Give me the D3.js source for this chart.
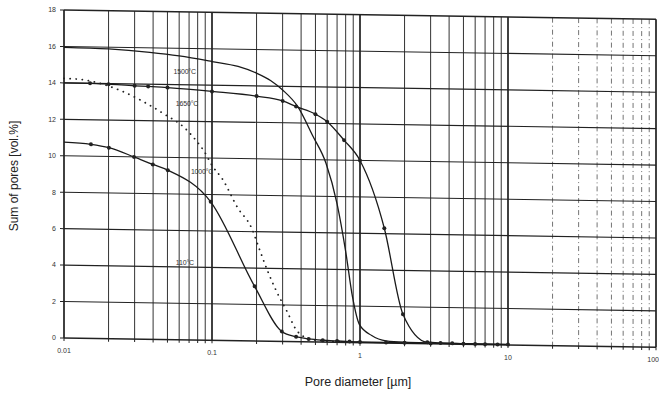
<!DOCTYPE html>
<html>
<head>
<meta charset="utf-8">
<script src="https://cdn.jsdelivr.net/npm/d3@7"></script>
<style>
  html, body { margin: 0; padding: 0; background: #fff; }
  svg { display: block; }
</style>
</head>
<body>
<svg id="chart" width="659" height="394"></svg>
<script>
// Cumulative pore volume vs. pore diameter for four firing temperatures
const xTickValues = [0.01, 0.1, 1, 10, 100];
const xTickLabels = ["0.01", "0.1", "1", "10", "100"];
const yTickValues = [0, 2, 4, 6, 8, 10, 12, 14, 16, 18];

// 1500 °C (solid line)
const d1500 = [0.01, 0.02, 0.038, 0.06, 0.1, 0.15, 0.2, 0.25, 0.3, 0.38, 0.48, 0.59, 0.7, 0.8, 0.89, 0.99, 1.2, 1.5, 2, 3, 5, 10];
const v1500 = [15.95, 15.9, 15.75, 15.58, 15.3, 15.05, 14.7, 14.3, 13.8, 12.9, 11.3, 9.8, 7.6, 5.0, 2.5, 1.0, 0.4, 0.12, 0.06, 0.04, 0.03, 0.03];

// 1650 °C (solid line with points)
const d1650 = [0.01, 0.015, 0.02, 0.03, 0.037, 0.05, 0.1, 0.2, 0.3, 0.37, 0.5, 0.6, 0.78, 1.0, 1.46, 1.95, 2.85, 3.5, 4.2, 5, 6, 7, 8.5, 10];
const v1650 = [14.0, 14.0, 13.97, 13.9, 13.88, 13.83, 13.66, 13.44, 13.2, 12.9, 12.5, 12.1, 11.1, 10.0, 6.3, 1.6, 0.08, 0.05, 0.04, 0.03, 0.03, 0.02, 0.02, 0.02];

// 1000 °C (dotted)
const d1000 = [0.01, 0.013, 0.0246, 0.034, 0.047, 0.066, 0.079, 0.088, 0.1, 0.118, 0.149, 0.185, 0.21, 0.238, 0.273, 0.319, 0.379, 0.478, 0.6, 0.8, 1.0];
const v1000 = [14.25, 14.2, 13.6, 13.06, 12.4, 11.6, 10.9, 10.4, 9.6, 8.84, 7.3, 6.2, 5.0, 3.84, 2.74, 1.7, 0.55, 0.12, 0.06, 0.04, 0.03];

// 110 °C (solid line with points)
const d110 = [0.01, 0.0152, 0.0201, 0.0297, 0.0398, 0.0503, 0.098, 0.194, 0.296, 0.37, 0.45, 0.56, 0.7, 0.85, 1.0, 1.5, 2, 3];
const v110 = [10.75, 10.65, 10.48, 10.0, 9.6, 9.3, 7.6, 3.0, 0.55, 0.27, 0.16, 0.1, 0.07, 0.05, 0.04, 0.03, 0.03, 0.02];

const seriesLabels = ["1500°C", "1650°C", "1000°C", "110°C"];
// label anchor points (diameter, volume)
const labelD = [0.055, 0.057, 0.072, 0.057];
const labelV = [14.6, 12.85, 9.1, 4.1];

const svg = d3.select("#chart");
const plotLeft = 64, plotRight = 656, plotTop = 10, plotBottom = 338;

const x = d3.scaleLog().domain([0.01, 100]).range([plotLeft, plotRight]);
const y = d3.scaleLinear().domain([0, 18]).range([plotBottom, plotTop]);

// slight skew of the whole plotting frame
const skew = 0.9;
const tanSkew = Math.tan(skew * Math.PI / 180);
const sk = px => (px - plotLeft) * tanSkew;   // vertical offset for texts
const g = svg.append("g")
  .attr("transform", `translate(0,${-plotLeft * tanSkew}) skewY(${skew})`);
const fontFam = "Liberation Sans, Arial, sans-serif";

// minor / major vertical grid
const minors = [];
[0.01, 0.1, 1, 10].forEach(dec => {
  for (let k = 1; k <= 9; k++) minors.push(dec * k);
});
minors.push(100);

minors.forEach(v => {
  const isDecade = Math.abs(Math.log10(v) - Math.round(Math.log10(v))) < 1e-9;
  const inLast = v > 10 + 1e-9 && v < 100 - 1e-9;
  g.append("line")
    .attr("x1", x(v)).attr("x2", x(v))
    .attr("y1", y(18)).attr("y2", y(0))
    .attr("stroke", inLast ? "#666" : (isDecade ? "#111" : "#333"))
    .attr("stroke-width", isDecade ? 1.6 : (inLast ? 0.9 : 1))
    .attr("stroke-dasharray", inLast ? "5,3,1,3" : null);
});

// horizontal grid
yTickValues.forEach(v => {
  g.append("line")
    .attr("x1", x(0.01)).attr("x2", x(100))
    .attr("y1", y(v)).attr("y2", y(v))
    .attr("stroke", "#222")
    .attr("stroke-width", v === 0 || v === 18 ? 1.6 : 1.1);
});

// axis ticks (y on the left, x below)
yTickValues.forEach(v => {
  g.append("line")
    .attr("x1", x(0.01) - 4).attr("x2", x(0.01))
    .attr("y1", y(v)).attr("y2", y(v))
    .attr("stroke", "#222").attr("stroke-width", 1);
});
minors.forEach(v => {
  g.append("line")
    .attr("x1", x(v)).attr("x2", x(v))
    .attr("y1", y(0)).attr("y2", y(0) + 3)
    .attr("stroke", "#222").attr("stroke-width", 1);
});

// curves
const line = d3.line()
  .x(d => x(d[0]))
  .y(d => y(d[1]))
  .curve(d3.curveMonotoneX);

const zip = (a, b) => a.map((v, i) => [v, b[i]]);

const s1500 = zip(d1500, v1500);
const s1650 = zip(d1650, v1650);
const s1000 = zip(d1000, v1000);
const s110 = zip(d110, v110);

g.append("path").attr("d", line(s1500))
  .attr("fill", "none").attr("stroke", "#1a1a1a").attr("stroke-width", 1.3);

g.append("path").attr("d", line(s1650))
  .attr("fill", "none").attr("stroke", "#1a1a1a").attr("stroke-width", 1.3);

g.append("path").attr("d", line(s1000))
  .attr("fill", "none").attr("stroke", "#222").attr("stroke-width", 1.8)
  .attr("stroke-linecap", "round")
  .attr("stroke-dasharray", "0.1,6");

g.append("path").attr("d", line(s110))
  .attr("fill", "none").attr("stroke", "#1a1a1a").attr("stroke-width", 1.3);

[s1650, s110].forEach(s => {
  g.selectAll(null).data(s.slice(1)).enter().append("circle")
    .attr("cx", d => x(d[0]))
    .attr("cy", d => y(d[1]))
    .attr("r", 2)
    .attr("fill", "#222");
});

// tick labels (kept upright, shifted to follow the frame)
svg.selectAll(".ylab").data(yTickValues).enter().append("text")
  .attr("class", "ylab")
  .attr("x", x(0.01) - 8)
  .attr("y", d => y(d) + 2.5 + sk(x(0.01) - 8))
  .attr("text-anchor", "end")
  .attr("font-family", fontFam)
  .attr("font-size", 7)
  .attr("fill", "#333")
  .text(d => d);

svg.selectAll(".xlab").data(xTickValues).enter().append("text")
  .attr("class", "xlab")
  .attr("x", d => d === 100 ? 659 : x(d))
  .attr("y", d => y(0) + 15 + sk(x(d)))
  .attr("text-anchor", d => d === 100 ? "end" : "middle")
  .attr("font-family", fontFam)
  .attr("font-size", 7)
  .attr("fill", "#333")
  .text((d, i) => xTickLabels[i]);

// series labels
svg.selectAll(".slab").data(seriesLabels).enter().append("text")
  .attr("class", "slab")
  .attr("x", (d, i) => x(labelD[i]))
  .attr("y", (d, i) => y(labelV[i]) + sk(x(labelD[i])))
  .attr("font-family", fontFam)
  .attr("font-size", 7)
  .attr("fill", "#333")
  .attr("letter-spacing", -0.2)
  .text(d => d);

// axis titles
svg.append("text")
  .attr("transform", `translate(18,${(plotTop + plotBottom) / 2 + 2}) rotate(-90)`)
  .attr("text-anchor", "middle")
  .attr("font-family", fontFam)
  .attr("font-size", 12)
  .attr("fill", "#222")
  .text("Sum of pores [vol.%]");

svg.append("text")
  .attr("x", 358)
  .attr("y", 386)
  .attr("text-anchor", "middle")
  .attr("font-family", fontFam)
  .attr("font-size", 12.5)
  .attr("fill", "#222")
  .text("Pore diameter [µm]");
</script>
</body>
</html>
